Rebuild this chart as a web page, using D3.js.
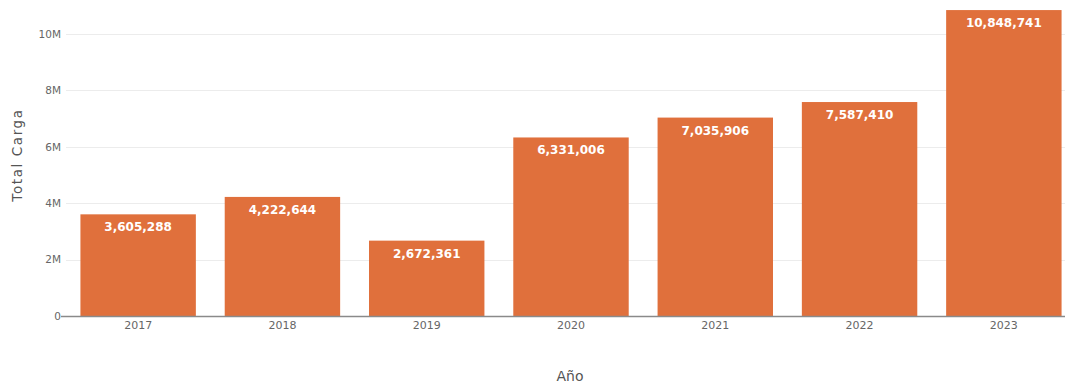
<!DOCTYPE html>
<html>
<head>
<meta charset="utf-8">
<script src="https://cdn.jsdelivr.net/npm/d3@7"></script>
<style>
  html, body { margin: 0; padding: 0; background: #fff; }
  svg { display: block; font-family: "DejaVu Sans", Verdana, sans-serif; }
</style>
</head>
<body>
<svg id="chart" width="1065" height="385"></svg>
<script>
// Annual total cargo
const years = ["2017", "2018", "2019", "2020", "2021", "2022", "2023"];
const totals = [3605288, 4222644, 2672361, 6331006, 7035906, 7587410, 10848741];
const yTicks = [0, 2e6, 4e6, 6e6, 8e6, 10e6];
const yTickLabels = ["0", "2M", "4M", "6M", "8M", "10M"];

const svg = d3.select("#chart");
const plotLeft = 66, plotRight = 1076, plotBottom = 316;

const x = d3.scaleBand().domain(years).range([plotLeft, plotRight]).paddingInner(0.2).paddingOuter(0.1);
const y = d3.scaleLinear().domain([0, 10e6]).range([plotBottom, 34]);

// horizontal grid
svg.append("g").selectAll("line").data(yTicks.slice(1)).join("line")
  .attr("x1", plotLeft).attr("x2", 1065)
  .attr("y1", d => Math.round(y(d)) + 0.5).attr("y2", d => Math.round(y(d)) + 0.5)
  .attr("stroke", "#ececec").attr("stroke-width", 1);

// y tick labels
const yAxis = d3.axisLeft(y).tickValues(yTicks)
  .tickFormat((d, i) => yTickLabels[i]).tickSize(0).tickPadding(4);
const gy = svg.append("g").attr("transform", `translate(${plotLeft - 1},0)`).call(yAxis);
gy.select(".domain").remove();
gy.selectAll("text").attr("fill", "#666").style("font-size", "10.5px")
  .style("font-family", "'DejaVu Sans', Verdana, sans-serif");

// bars
svg.append("g").selectAll("rect").data(totals).join("rect")
  .attr("x", (d, i) => x(years[i]))
  .attr("width", x.bandwidth())
  .attr("y", d => y(d))
  .attr("height", d => y(0) - y(d))
  .attr("fill", "#e0703c");

// value labels inside bar tops
svg.append("g").selectAll("text").data(totals).join("text")
  .attr("x", (d, i) => x(years[i]) + x.bandwidth() / 2)
  .attr("y", d => y(d) + 17)
  .attr("text-anchor", "middle")
  .attr("fill", "#fff")
  .style("font-size", "12px")
  .style("font-weight", "bold")
  .text(d => d3.format(",")(d));

// baseline
svg.append("line")
  .attr("x1", plotLeft - 5).attr("x2", 1065)
  .attr("y1", plotBottom + 0.5).attr("y2", plotBottom + 0.5)
  .attr("stroke", "#8a8a8a").attr("stroke-width", 1.5);

// x tick labels
const xAxis = d3.axisBottom(x).tickSize(0).tickPadding(5);
const gx = svg.append("g").attr("transform", `translate(0,${plotBottom})`).call(xAxis);
gx.select(".domain").remove();
gx.selectAll("text").attr("fill", "#666").style("font-size", "11px")
  .style("font-family", "'DejaVu Sans', Verdana, sans-serif");

// axis titles
svg.append("text")
  .attr("transform", `translate(22,155) rotate(-90)`)
  .attr("text-anchor", "middle")
  .attr("fill", "#555")
  .style("font-size", "13.5px")
  .style("letter-spacing", "1.6px")
  .text("Total Carga");

svg.append("text")
  .attr("x", 570).attr("y", 381)
  .attr("text-anchor", "middle")
  .attr("fill", "#555")
  .style("font-size", "14px")
  .text("Año");
</script>
</body>
</html>
